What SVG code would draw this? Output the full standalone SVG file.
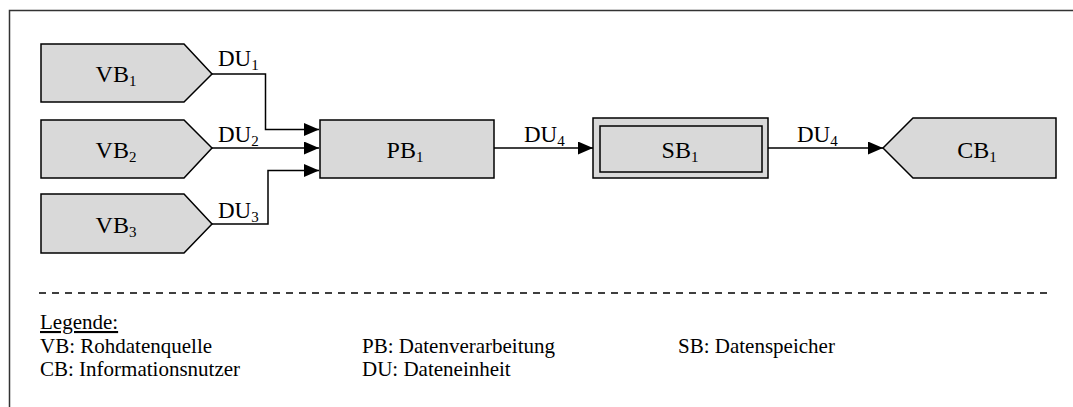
<svg xmlns="http://www.w3.org/2000/svg" width="1073" height="407" viewBox="0 0 1073 407">
  <style>
    .shape { fill: #d9d9d9; stroke: #000; stroke-width: 1.5; }
    .wire { fill: none; stroke: #000; stroke-width: 1.5; }
    .serif { font-family: "Liberation Serif", "Times New Roman", serif; fill: #000; }
    .lbl { font-size: 24px; }
    .du { font-size: 23px; }
    .leg { font-size: 21px; }
    .sub { font-size: 15px; }
  </style>
  <defs>
    <marker id="arrow" viewBox="0 0 15 13" refX="15" refY="6.5" markerWidth="15" markerHeight="13" markerUnits="userSpaceOnUse" orient="auto">
      <path d="M0,0 L15,6.5 L0,13 Z" fill="#000"/>
    </marker>
  </defs>

  <rect width="1073" height="407" fill="#fff"/>
  <!-- frame (open on the right and bottom) -->
  <path d="M9.5,407 V10.5 H1073" fill="none" stroke="#333" stroke-width="1.5"/>

  <!-- sources -->
  <g id="vb1">
    <polygon class="shape" points="41,44 184,44 212,74 184,102 41,102"/>
    <text class="serif lbl" x="116" y="82" text-anchor="middle">VB<tspan class="sub" dy="4">1</tspan></text>
  </g>
  <g id="vb2">
    <polygon class="shape" points="41,120 184,120 212,148 184,178 41,178"/>
    <text class="serif lbl" x="116" y="158" text-anchor="middle">VB<tspan class="sub" dy="4">2</tspan></text>
  </g>
  <g id="vb3">
    <polygon class="shape" points="41,194 184,194 212,224 184,253 41,253"/>
    <text class="serif lbl" x="116" y="233" text-anchor="middle">VB<tspan class="sub" dy="4">3</tspan></text>
  </g>

  <!-- processing -->
  <g id="pb1">
    <rect class="shape" x="320" y="120" width="174" height="58"/>
    <text class="serif lbl" x="405" y="158" text-anchor="middle">PB<tspan class="sub" dy="4">1</tspan></text>
  </g>

  <!-- storage -->
  <g id="sb1">
    <rect class="shape" x="593" y="118" width="175" height="60"/>
    <rect class="shape" x="600" y="126" width="162" height="46"/>
    <text class="serif lbl" x="680" y="158" text-anchor="middle">SB<tspan class="sub" dy="4">1</tspan></text>
  </g>

  <!-- consumer -->
  <g id="cb1">
    <polygon class="shape" points="883,148 913,118 1056,118 1056,178 913,178"/>
    <text class="serif lbl" x="977" y="158" text-anchor="middle">CB<tspan class="sub" dy="4">1</tspan></text>
  </g>

  <!-- data flows -->
  <g id="connectors">
    <path class="wire" d="M212,74 H265.5 V129.5 H319" marker-end="url(#arrow)"/>
    <path class="wire" d="M212,148 H319" marker-end="url(#arrow)"/>
    <path class="wire" d="M212,224 H268 V170.5 H319" marker-end="url(#arrow)"/>
    <path class="wire" d="M494,148 H593" marker-end="url(#arrow)"/>
    <path class="wire" d="M768,148 H883" marker-end="url(#arrow)"/>
    <text class="serif du" x="218" y="66">DU<tspan class="sub" dy="4">1</tspan></text>
    <text class="serif du" x="218" y="142">DU<tspan class="sub" dy="4">2</tspan></text>
    <text class="serif du" x="218" y="218">DU<tspan class="sub" dy="4">3</tspan></text>
    <text class="serif du" x="524" y="142">DU<tspan class="sub" dy="4">4</tspan></text>
    <text class="serif du" x="797" y="142">DU<tspan class="sub" dy="4">4</tspan></text>
  </g>

  <!-- legend -->
  <g id="legend">
    <line x1="39" y1="293" x2="1047" y2="293" stroke="#000" stroke-width="1.5" stroke-dasharray="7,6"/>
    <text class="serif leg" x="40" y="329" text-decoration="underline">Legende:</text>
    <text class="serif leg" x="40" y="353">VB: Rohdatenquelle</text>
    <text class="serif leg" x="40" y="376">CB: Informationsnutzer</text>
    <text class="serif leg" x="362" y="353">PB: Datenverarbeitung</text>
    <text class="serif leg" x="362" y="376">DU: Dateneinheit</text>
    <text class="serif leg" x="678" y="353">SB: Datenspeicher</text>
  </g>
</svg>
